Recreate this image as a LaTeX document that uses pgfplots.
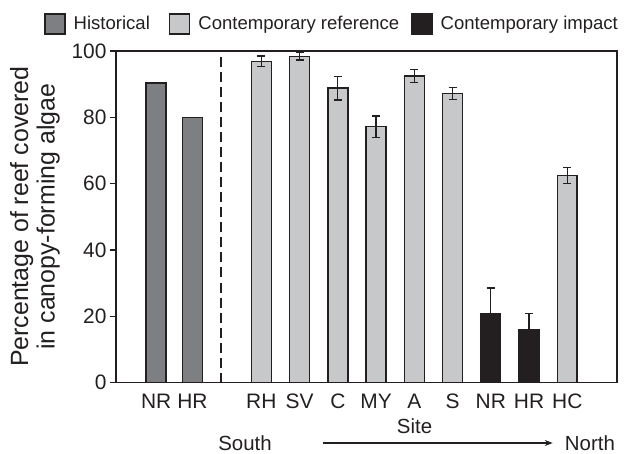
\documentclass[border=0pt]{standalone}
\usepackage{fontspec}
\setmainfont{Liberation Sans}
\usepackage{pgfplots}
\pgfplotsset{compat=1.18}
\usetikzlibrary{arrows.meta}
\definecolor{hist}{HTML}{7E7F83}
\definecolor{refc}{HTML}{C7C8CA}
\definecolor{imp}{HTML}{231F20}
\definecolor{ink}{HTML}{231F20}
\pgfplotstableread{
x y e
3.8 96.9 1.6
4.8 98.4 1.1
5.8 88.8 3.6
6.8 77.2 3.2
7.8 92.4 2.0
8.8 87.2 1.8
11.8 62.5 2.4
}\reftable
\pgfplotstableread{
x y e
9.8 20.8 7.7
10.8 15.9 5.0
}\imptable
\begin{document}
\begin{tikzpicture}
\useasboundingbox (-116bp,-71.5bp) rectangle (508bp,382.5bp);
\begin{axis}[
  at={(0,0)}, anchor=south west,
  scale only axis, width=501bp, height=331.5bp,
  xmin=0, xmax=13.1, ymin=0, ymax=100,
  clip=false,
  axis line style={line width=1.5bp, ink},
  ytick={0,20,...,100},
  xtick={1.05,2,3.8,4.8,5.8,6.8,7.8,8.8,9.8,10.8,11.8},
  xticklabels={NR,HR,RH,SV,C,MY,A,S,NR,HR,HC},
  x tick style={draw=none},
  y tick style={line width=1.3bp, ink},
  tick align=outside, tick pos=left,
  major tick length=6bp,
  /pgf/number format/assume math mode=true,
  yticklabel style={font=\fontsize{21}{24}\selectfont, text=ink},
  xticklabel style={font=\fontsize{21}{24}\selectfont, text=ink, yshift=-2bp},
  ylabel={Percentage of reef covered\\in canopy-forming algae},
  every axis y label/.style={at={(axis description cs:-0.1617,0.5)}, rotate=90, anchor=center, align=center, font=\fontsize{25}{26.5}\selectfont, text=ink},
  legend columns=3,
  legend style={at={(axis description cs:-0.1437,1.0814)}, anchor=west, draw=none, fill=none, inner sep=0pt,
    font=\fontsize{18.6}{20}\selectfont, text=ink,
    nodes={inner xsep=0pt, inner ysep=1bp},
    /tikz/every odd column/.append style={column sep=8bp},
    /tikz/column 2/.style={column sep=19bp},
    /tikz/column 4/.style={column sep=12bp}},
]
\addplot[ybar, bar width=0.52, bar shift=0pt, fill=hist, draw=ink, line width=1.5bp,
  legend image code/.code={\draw[fill=hist, draw=ink, line width=1.5bp] (0bp,-10bp) rectangle (20bp,10bp);}]
  coordinates {(1.05,90.3) (2,80)};
\addlegendentry{Historical}
\addplot[ybar, bar width=0.52, bar shift=0pt, fill=refc, draw=ink, line width=1.5bp,
  legend image code/.code={\draw[fill=refc, draw=ink, line width=1.5bp] (0bp,-10bp) rectangle (20bp,10bp);},
  error bars/.cd, y dir=both, y explicit,
  error bar style={line width=1.3bp, ink},
  error mark options={rotate=90, mark size=4bp, line width=1.3bp, ink}]
  table[x=x, y=y, y error=e] {\reftable};
\addlegendentry{Contemporary reference}
\addplot[ybar, bar width=0.52, bar shift=0pt, fill=imp, draw=ink, line width=1.5bp,
  legend image code/.code={\draw[fill=imp, draw=ink, line width=1.5bp] (0bp,-10bp) rectangle (20bp,10bp);},
  error bars/.cd, y dir=plus, y explicit,
  error bar style={line width=1.3bp, ink},
  error mark options={rotate=90, mark size=4bp, line width=1.3bp, ink}]
  table[x=x, y=y, y error=e] {\imptable};
\addlegendentry{Contemporary impact}
\addplot[forget plot, ink, line width=1.6bp, dash pattern=on 10bp off 5bp] coordinates {(2.75,0) (2.75,100)};
\node[anchor=base, font=\fontsize{20.5}{24}\selectfont, text=ink] at (axis description cs:0.596,-0.1535) {Site};
\node[anchor=base, font=\fontsize{20.5}{24}\selectfont, text=ink] at (axis description cs:0.2575,-0.2066) {South};
\node[anchor=base, font=\fontsize{20.5}{24}\selectfont, text=ink] at (axis description cs:0.946,-0.2066) {North};
\draw[-{Stealth[length=8bp,width=6bp]}, line width=1.3bp, ink] (axis description cs:0.4126,-0.1825) -- (axis description cs:0.8717,-0.1825);
\end{axis}
\end{tikzpicture}
\end{document}
